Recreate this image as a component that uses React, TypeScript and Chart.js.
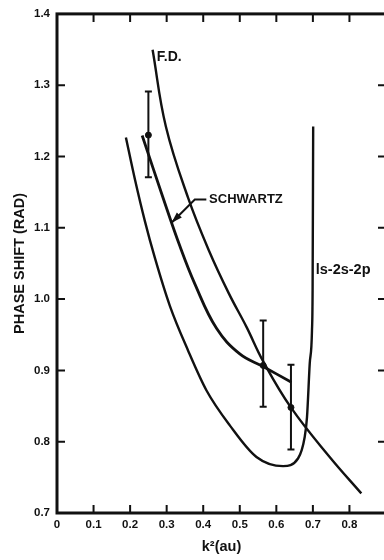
import React, { useEffect, useRef } from 'react';
import { Chart, registerables } from 'chart.js';

Chart.register(...registerables);

// ---- Data ----
const fdK2 = [0.2615, 0.2978, 0.3587, 0.4161, 0.4700, 0.5183, 0.5637, 0.6402, 0.7459, 0.8325];
const fdPhase = [1.3497, 1.2421, 1.1419, 1.0675, 1.0080, 0.9610, 0.9130, 0.8477, 0.7786, 0.7275];

const schwartzK2 = [0.233, 0.2896, 0.3361, 0.377, 0.4363, 0.5, 0.5637, 0.6413];
const schwartzPhase = [1.2295, 1.1429, 1.0744, 1.0214, 0.9590, 0.9231, 0.9054, 0.8834];

const closeK2 = [0.1885, 0.2131, 0.2404, 0.2678, 0.3087, 0.3587, 0.409, 0.4727, 0.5456, 0.6183, 0.6593, 0.6776, 0.6839, 0.6913, 0.6975, 0.6992, 0.7008];
const closePhase = [1.2267, 1.1681, 1.1094, 1.0577, 0.9906, 0.9277, 0.8718, 0.8229, 0.7786, 0.7657, 0.7764, 0.8066, 0.8345, 0.9091, 0.9557, 1.0116, 1.2421];

const expK2 = [0.25, 0.564, 0.64];
const expPhase = [1.23, 0.907, 0.848];
const expLow = [1.171, 0.849, 0.789];
const expHigh = [1.291, 0.97, 0.908];

const curveLabels = ['F.D.', 'SCHWARTZ', 'ls-2s-2p'];
const curveLabelK2 = [0.2732, 0.4161, 0.7077];
const curveLabelPhase = [1.3399, 1.1397, 1.0409];

const leaderK2 = [0.4085, 0.377, 0.3134];
const leaderPhase = [1.1397, 1.1397, 1.107];

const xLabel = 'k²(au)';
const yLabel = 'PHASE SHIFT (RAD)';

const INK = '#111';
const FONT = '"Liberation Sans", Arial, Helvetica, sans-serif';

export default function App() {
  const ref = useRef<HTMLCanvasElement>(null);

  useEffect(() => {
    const canvas = ref.current;
    if (!canvas) return;
    const pts = (xs: number[], ys: number[]) => xs.map((x, i) => ({ x, y: ys[i] }));

    const overlay = {
      id: 'overlay',
      afterDatasetsDraw(chart: any) {
        const ctx = chart.ctx as CanvasRenderingContext2D;
        const xs = chart.scales.x;
        const ys = chart.scales.y;
        ctx.save();
        ctx.strokeStyle = INK;
        ctx.fillStyle = INK;
        // error bars
        ctx.lineWidth = 2;
        for (let i = 0; i < expK2.length; i++) {
          const px = xs.getPixelForValue(expK2[i]);
          const lo = ys.getPixelForValue(expLow[i]);
          const hi = ys.getPixelForValue(expHigh[i]);
          ctx.beginPath();
          ctx.moveTo(px, lo);
          ctx.lineTo(px, hi);
          ctx.moveTo(px - 3.5, lo);
          ctx.lineTo(px + 3.5, lo);
          ctx.moveTo(px - 3.5, hi);
          ctx.lineTo(px + 3.5, hi);
          ctx.stroke();
        }
        // leader with arrow
        ctx.lineWidth = 2;
        ctx.beginPath();
        leaderK2.forEach((k, i) => {
          const px = xs.getPixelForValue(k);
          const py = ys.getPixelForValue(leaderPhase[i]);
          if (i === 0) ctx.moveTo(px, py);
          else ctx.lineTo(px, py);
        });
        ctx.stroke();
        const n = leaderK2.length;
        const tx = xs.getPixelForValue(leaderK2[n - 1]);
        const ty = ys.getPixelForValue(leaderPhase[n - 1]);
        const fx = xs.getPixelForValue(leaderK2[n - 2]);
        const fy = ys.getPixelForValue(leaderPhase[n - 2]);
        const ang = Math.atan2(ty - fy, tx - fx);
        const L = 11;
        const W = 3.5;
        const bx = tx - L * Math.cos(ang);
        const by = ty - L * Math.sin(ang);
        ctx.beginPath();
        ctx.moveTo(tx, ty);
        ctx.lineTo(bx + W * Math.sin(ang), by - W * Math.cos(ang));
        ctx.lineTo(bx - W * Math.sin(ang), by + W * Math.cos(ang));
        ctx.closePath();
        ctx.fill();
        // curve labels
        const sizes = [14, 13, 14.5];
        ctx.textAlign = 'left';
        ctx.textBaseline = 'middle';
        curveLabels.forEach((t, i) => {
          ctx.font = `bold ${sizes[i]}px ${FONT}`;
          ctx.fillText(t, xs.getPixelForValue(curveLabelK2[i]), ys.getPixelForValue(curveLabelPhase[i]));
        });
        ctx.restore();
      },
      afterDraw(chart: any) {
        const ctx = chart.ctx as CanvasRenderingContext2D;
        const { left, right, top, bottom } = chart.chartArea;
        const xs = chart.scales.x;
        const ys = chart.scales.y;
        ctx.save();
        ctx.strokeStyle = INK;
        ctx.lineWidth = 2;
        const T = 8;
        ctx.beginPath();
        xs.ticks.forEach((t: any) => {
          const px = xs.getPixelForValue(t.value);
          if (px <= left + 1 || px >= right - 1) return;
          ctx.moveTo(px, bottom);
          ctx.lineTo(px, bottom - T);
          ctx.moveTo(px, top);
          ctx.lineTo(px, top + T);
        });
        ys.ticks.forEach((t: any) => {
          const py = ys.getPixelForValue(t.value);
          if (py <= top + 1 || py >= bottom - 1) return;
          ctx.moveTo(left, py);
          ctx.lineTo(left + T, py);
          ctx.moveTo(right, py);
          ctx.lineTo(right - T, py);
        });
        ctx.stroke();
        ctx.lineWidth = 3;
        ctx.strokeRect(left, top, right - left, bottom - top);
        ctx.restore();
      },
    };

    const lineDs = (label: string, xs: number[], ys: number[], w: number, monotone: boolean) => ({
      label,
      data: pts(xs, ys),
      showLine: true,
      borderColor: INK,
      backgroundColor: INK,
      borderWidth: w,
      pointRadius: 0,
      tension: 0.4,
      cubicInterpolationMode: monotone ? ('monotone' as const) : ('default' as const),
      fill: false,
    });

    const tickFont = { family: FONT, weight: 'bold' as const, size: 11.5 };
    const titleFont = { family: FONT, weight: 'bold' as const, size: 14.5 };

    const chart = new Chart(canvas, {
      type: 'scatter',
      data: {
        datasets: [
          lineDs('F.D.', fdK2, fdPhase, 2.4, false),
          lineDs('SCHWARTZ', schwartzK2, schwartzPhase, 2.8, false),
          lineDs('ls-2s-2p', closeK2, closePhase, 2.4, true),
          {
            label: 'experiment',
            data: pts(expK2, expPhase),
            showLine: false,
            pointRadius: 3,
            backgroundColor: INK,
            borderColor: INK,
          } as any,
        ],
      },
      options: {
        responsive: false,
        animation: false,
        devicePixelRatio: 1,
        layout: { padding: { left: 0, right: 14, top: 12, bottom: 0 } },
        plugins: { legend: { display: false }, tooltip: { enabled: false } },
        scales: {
          x: {
            type: 'linear',
            position: 'bottom',
            min: 0,
            max: 0.9,
            afterFit: (s: any) => {
              s.height = 47;
            },
            grid: { display: false, drawTicks: false },
            border: { display: false },
            ticks: {
              stepSize: 0.1,
              autoSkip: false,
              maxRotation: 0,
              padding: 5,
              color: INK,
              font: tickFont,
              callback: (v: any) => {
                const n = Number(v);
                if (Math.abs(n) < 1e-9) return '0';
                if (Math.abs(n - 0.9) < 1e-6) return '';
                return n.toFixed(1);
              },
            },
            title: { display: true, text: xLabel, color: INK, font: titleFont, padding: { top: 0, bottom: 4 } },
          },
          y: {
            type: 'linear',
            min: 0.7,
            max: 1.4,
            afterFit: (s: any) => {
              s.width = 57;
            },
            grid: { display: false, drawTicks: false },
            border: { display: false },
            ticks: {
              stepSize: 0.1,
              autoSkip: false,
              padding: 7,
              color: INK,
              font: tickFont,
              callback: (v: any) => Number(v).toFixed(1),
            },
            title: { display: true, text: yLabel, color: INK, font: titleFont, padding: { top: 11, bottom: 0 } },
          },
        },
      },
      plugins: [overlay],
    });

    return () => chart.destroy();
  }, []);

  return (
    <div style={{ position: 'fixed', left: 0, top: 0, width: 384, height: 560, overflow: 'hidden', background: '#fff' }}>
      <canvas ref={ref} width={400} height={560} style={{ display: 'block', width: 400, height: 560 }} />
    </div>
  );
}
